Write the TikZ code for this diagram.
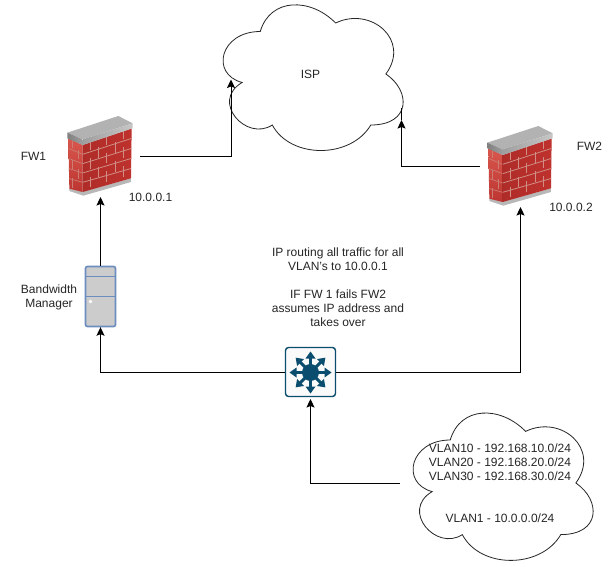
\documentclass[tikz,border=0pt]{standalone}
\usepackage{fontspec}
\setmainfont{Liberation Sans}
\usetikzlibrary{arrows.meta,calc}
\definecolor{brick}{HTML}{BC3430}
\definecolor{brickhi}{HTML}{D9584E}
\definecolor{brickdk}{HTML}{AE2C28}
\definecolor{mortar}{HTML}{D08E84}
\definecolor{srvblue}{HTML}{6C8EBF}
\definecolor{srvfill}{HTML}{CCCCCC}
\definecolor{swblue}{HTML}{0B4D6E}
\tikzset{
  x=1pt,y=-1pt,
  link/.style={draw=black,line width=1pt,-{Stealth[length=8.5pt,width=8pt,inset=1.5pt]}},
  label/.style={font=\fontsize{12}{14}\selectfont,text=black!85,align=center,inner sep=0pt},
  cloudline/.style={draw=black!85,fill=white,line width=0.8pt},
  hotspot/.style={inner sep=0pt,draw=none}
}
% Cloud outline inside a box at (#1,#2) of size #3 x #4
\newcommand{\cloudshape}[4]{%
  \draw[cloudline,x=#3pt,y=-#4pt,shift={(#1pt,-#2pt)}]
    (0.25,0.25) .. controls (0.05,0.25) and (0,0.5) .. (0.16,0.55)
    .. controls (0,0.66) and (0.18,0.9) .. (0.31,0.8)
    .. controls (0.4,1) and (0.7,1) .. (0.8,0.8)
    .. controls (1,0.8) and (1,0.6) .. (0.875,0.5)
    .. controls (1,0.3) and (0.8,0.1) .. (0.625,0.2)
    .. controls (0.5,0.05) and (0.3,0.05) .. (0.25,0.25) -- cycle;}
% Brick wall drawn on a grid of third-points from the origin (#1,#2)
\newcommand{\brickwall}[2]{%
  \begin{scope}[shift={(#1pt,-#2pt)},x=0.3333pt,y=-0.3333pt]
    % plinth
    \fill[black!28] (58,235) -- (98,245) -- (243,205) -- (243,216) -- (100,257) -- (58,243) -- cycle;
    % end face
    \begin{scope}
      \clip (55,85) -- (98,105) -- (98,246) -- (58,236) -- cycle;
      \shade[top color=brickhi,bottom color=brick] (50,80) rectangle (100,250);
      \foreach \k in {1,2,3,4}{
        \draw[mortar!80!brick,line width=0.7pt] (55,{85+\k*30}) -- (98,{105+\k*28});
      }
      \foreach \x/\y in {68/85,85/120,68/150,85/178,68/205}{
        \draw[mortar!80!brick,line width=0.6pt] (\x,\y) -- (\x,\y+28);
      }
    \end{scope}
    % long face
    \begin{scope}
      \clip (98,105) -- (245,55) -- (243,205) -- (98,246) -- cycle;
      \shade[left color=brickdk,right color=brick!95!red] (95,50) rectangle (250,250);
      \foreach \k in {1,2,3,4}{
        \draw[mortar,line width=0.8pt] (98,{105+\k*28}) -- (245,{55+\k*30});
      }
      \foreach \x/\y in {122/88,170/72,220/55,
                         146/112,195/96,
                         122/144,170/128,220/112,
                         146/170,195/154,
                         122/200,170/184,220/168}{
        \draw[mortar,line width=0.8pt] (\x,\y) -- (\x,\y+32);
      }
    \end{scope}
    % coping stone
    \fill[black!30] (52,68) -- (205,18) -- (248,40) -- (98,88) -- cycle;
    \shade[left color=black!50,right color=black!38] (52,68) -- (98,88) -- (98,105) -- (52,85) -- cycle;
    \shade[left color=black!38,right color=black!22] (98,88) -- (248,40) -- (248,55) -- (98,105) -- cycle;
  \end{scope}}
\begin{document}
\begin{tikzpicture}
\useasboundingbox (0,0) rectangle (611,567);
\fill[white] (0,0) rectangle (611,567);

% Clouds
\cloudshape{210}{-11}{201}{170}
\cloudshape{400}{397}{201}{172}
\coordinate (ispW) at (231,79.5);
\coordinate (ispE) at (401.5,120);
\coordinate (ispRim) at (401.5,108);
\coordinate (vlanW) at (400,483.5);

% Firewalls
\brickwall{50}{110}
\brickwall{470}{120}
\node[hotspot,minimum width=66pt,minimum height=80pt] (fwa) at (100.5,156.5) {};
\node[hotspot,minimum width=66pt,minimum height=80pt] (fwb) at (520.5,166.5) {};
\coordinate (fwaS) at (100.5,197);
\coordinate (fwaE) at (140,156.5);
\coordinate (fwbS) at (520.5,207);
\coordinate (fwbW) at (480,166.5);

% Bandwidth manager tower
\node[hotspot,minimum width=31pt,minimum height=61pt] (bwm) at (100.5,296.5) {};
\draw[srvblue,fill=srvfill,line width=1.7pt,rounded corners=2pt] (85.5,266.5) rectangle (115.5,326.5);
\draw[srvblue,line width=1.7pt] (85.5,276.5) -- (115.5,276.5) (85.5,296.5) -- (115.5,296.5);
\fill[white] (90.5,301.5) circle (1.9pt);

% Core switch
\node[hotspot,minimum width=51pt,minimum height=50pt] (sw) at (310.5,372.5) {};
\draw[swblue,fill=black!2,line width=1.4pt,rounded corners=3pt] (285.5,347.5) rectangle (335.5,396.5);
\fill[swblue] (sw.center) circle (8.5pt);
\foreach \a in {0,45,...,315}{
  \draw[swblue,line width=3pt,rotate around={\a:(sw.center)}] (sw.center) -- ++(16,0);
  \fill[swblue,rotate around={\a:(sw.center)}] ($(sw.center)+(21,0)$) -- ++(-7,-5) -- ++(0,10) -- cycle;
}
\coordinate (swS) at (310.5,399);

% Links
\draw[link] (bwm.north) -- (fwaS);
\draw[link] (sw.west) -| (bwm.south);
\draw[link] (sw.east) -| (fwbS);
\draw[link] (vlanW) -| (swS);
\draw[link] (fwaE) -| (ispW);
\draw[link] (fwbW) -| (ispE);
\draw[draw=black,line width=0.8pt] (ispE) -- (ispRim);

% Labels
\node[label] (ispT) at (310.5,74.5) {ISP};
\node[label] (fwaT) at (33.5,156.5) {FW1};
\node[label] (fwbT) at (589.5,146.5) {FW2};
\node[label] (fwaA) at (150.5,197) {10.0.0.1};
\node[label] (fwbA) at (571,207) {10.0.0.2};
\node[label] (bwmT) at (49,297.5) {Bandwidth\\Manager};
\node[label] (note) at (338,287.5) {IP routing all traffic for all\\VLAN's to 10.0.0.1\\[14pt]IF FW 1 fails FW2\\assumes IP address and\\takes over};
\node[label] (vlanA) at (500,462) {VLAN10 - 192.168.10.0/24\\VLAN20 - 192.168.20.0/24\\VLAN30 - 192.168.30.0/24};
\node[label] (vlanB) at (500,518) {VLAN1 - 10.0.0.0/24};
\end{tikzpicture}
\end{document}
